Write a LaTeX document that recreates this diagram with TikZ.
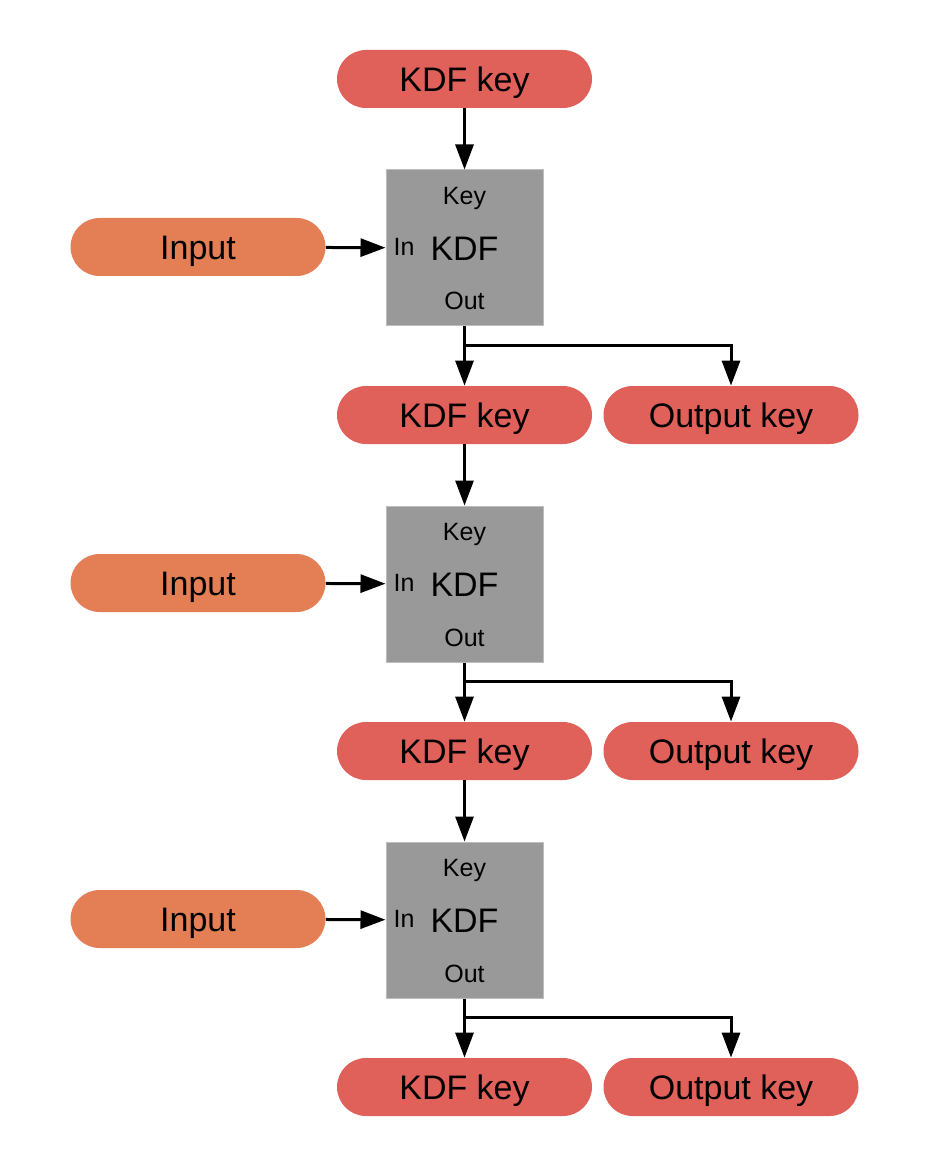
\documentclass[tikz,border=0pt]{standalone}
\usepackage{fontspec}
\setmainfont{Liberation Sans}
\usetikzlibrary{arrows.meta}

\definecolor{keyred}{HTML}{E0605A}
\definecolor{inorange}{HTML}{E47F55}
\definecolor{kdfgray}{HTML}{999999}
\definecolor{kdfedge}{HTML}{BDBDBD}

\tikzset{
  keynode/.style={fill=keyred, rounded corners=14.5pt, minimum width=127.5pt,
    minimum height=29pt, inner sep=0pt, text height=12.2pt, text depth=0pt,
    font=\fontsize{17}{20}\selectfont},
  innode/.style={keynode, fill=inorange},
  kdfbox/.style={fill=kdfgray, draw=kdfedge, line width=0.5pt, minimum width=78.5pt,
    minimum height=78pt, inner sep=0pt, text height=12.2pt, text depth=0pt,
    font=\fontsize{17}{20}\selectfont},
  port/.style={font=\fontsize{12.5}{14}\selectfont, inner sep=0pt,
    text height=9pt, text depth=0pt},
  flow/.style={line width=1.5pt, -{Triangle[length=12.5pt,width=9pt]}}
}

\begin{document}
\begin{tikzpicture}[x=0.5pt,y=-0.5pt]
    \useasboundingbox (0,0) rectangle (940,1176);
    \node[keynode] (key0) at (464.5,79) {KDF key};
    % first round
    \node[kdfbox] (kdf1) at (464.5,248) {KDF};
    \node[innode] (in1) at (198,247) {Input};
    \node[keynode] (key1) at (464.5,415) {KDF key};
    \node[keynode] (out1) at (731,415) {Output key};
    \node[port] (kdf1key) at (464.5,195.5) {Key};
    \node[port] (kdf1in) at (404,246.5) {In};
    \node[port] (kdf1out) at (464.5,301) {Out};
    \coordinate (split1) at (464.5,345);
    % second round
    \node[kdfbox] (kdf2) at (464.5,584) {KDF};
    \node[innode] (in2) at (198,583) {Input};
    \node[keynode] (key2) at (464.5,751) {KDF key};
    \node[keynode] (out2) at (731,751) {Output key};
    \node[port] (kdf2key) at (464.5,531.5) {Key};
    \node[port] (kdf2in) at (404,582.5) {In};
    \node[port] (kdf2out) at (464.5,637) {Out};
    \coordinate (split2) at (464.5,681);
    % third round
    \node[kdfbox] (kdf3) at (464.5,920) {KDF};
    \node[innode] (in3) at (198,919) {Input};
    \node[keynode] (key3) at (464.5,1087) {KDF key};
    \node[keynode] (out3) at (731,1087) {Output key};
    \node[port] (kdf3key) at (464.5,867.5) {Key};
    \node[port] (kdf3in) at (404,918.5) {In};
    \node[port] (kdf3out) at (464.5,973) {Out};
    \coordinate (split3) at (464.5,1017);
    % connectors
    \draw[flow] (key0) -- (kdf1);
    \draw[flow] (in1) -- (kdf1);
    \draw[flow] (kdf1) -- (key1);
    \draw[flow] (split1) -| (out1);
    \draw[flow] (key1) -- (kdf2);
    \draw[flow] (in2) -- (kdf2);
    \draw[flow] (kdf2) -- (key2);
    \draw[flow] (split2) -| (out2);
    \draw[flow] (key2) -- (kdf3);
    \draw[flow] (in3) -- (kdf3);
    \draw[flow] (kdf3) -- (key3);
    \draw[flow] (split3) -| (out3);
\end{tikzpicture}
\end{document}
